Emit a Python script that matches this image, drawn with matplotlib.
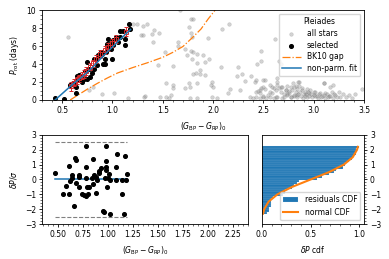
import numpy as np
import matplotlib
matplotlib.use("Agg")
import matplotlib.pyplot as plt
from matplotlib.ticker import AutoMinorLocator

plt.rcParams['font.size'] = 5.5
plt.rcParams['axes.linewidth'] = 0.6
for ax_ in ('xtick', 'ytick'):
    plt.rcParams[ax_ + '.major.size'] = 2.2
    plt.rcParams[ax_ + '.minor.size'] = 1.2
    plt.rcParams[ax_ + '.major.width'] = 0.6
    plt.rcParams[ax_ + '.minor.width'] = 0.4
    plt.rcParams[ax_ + '.major.pad'] = 2

# all Pleiades stars (grey)
all_x = [0.56, 0.77, 0.81, 0.90, 1.02, 1.15,
         1.20, 1.24, 1.30, 1.34, 1.28, 1.30, 1.39, 1.41, 1.46, 1.40, 1.52, 1.45,
         1.32, 1.31, 1.47, 1.53, 1.56, 1.60, 1.60, 1.53, 1.58, 1.60,
         1.65, 1.65, 1.67, 1.78, 1.80, 1.76, 1.78, 1.79, 1.95, 1.78, 1.80, 1.84,
         1.79, 1.96, 1.84, 1.90, 1.92, 1.87, 1.80, 1.83, 1.87, 1.92, 1.84, 1.77,
         1.98, 2.00, 1.77, 1.84, 1.72, 1.76, 1.72, 1.74,
         2.16, 2.09, 2.61, 2.48, 2.48, 2.44, 2.65, 2.67, 2.08, 2.25, 2.24, 2.29,
         2.38, 2.42, 1.99, 2.32, 2.50, 2.63, 2.63, 2.27, 2.17, 2.15, 1.99, 2.04,
         2.43, 2.47, 2.50, 2.52, 2.57, 2.58, 2.62, 2.63, 2.65, 2.67, 2.68, 2.72,
         2.73, 2.77, 2.79, 2.82, 2.83,
         2.37, 2.40, 2.43, 2.47, 2.50, 2.53, 2.57, 2.60, 2.63, 2.70, 2.73, 2.77,
         2.80, 2.83,
         2.43, 2.52, 2.57, 2.48, 2.45, 2.60, 2.67, 2.72, 2.75, 2.78, 2.80, 2.85,
         2.85, 2.88, 2.91, 2.95, 2.96, 3.00, 3.01, 3.05, 3.08, 3.10, 3.11, 3.15,
         3.16, 3.18, 3.21, 3.25, 3.26, 3.29, 3.32, 3.35, 3.38, 3.41, 3.48,
         2.73, 2.77, 2.80, 2.82, 2.83, 2.84, 2.86, 2.87, 2.89, 2.90, 2.91, 2.92,
         2.93, 2.94, 2.95, 2.97, 2.98, 3.00, 3.01, 3.03, 3.04, 3.06, 3.07, 3.10,
         3.11, 3.13, 3.14, 3.16, 3.19, 3.20, 3.23, 2.88, 2.93, 2.75, 2.70, 2.68,
         2.62, 2.58, 2.55, 2.50, 2.47, 3.10, 3.19, 2.84]
all_y = [7.0, 1.1, 1.4, 0.63, 0.82, 0.26,
         8.4, 8.4, 8.2, 8.5, 7.2, 7.2, 7.3, 7.8, 7.4, 6.4, 5.3, 3.9,
         0.4, 0.3, 0.3, 0.3, 0.2, 1.7, 1.3, 1.9, 0.6, 3.8,
         6.4, 6.0, 10.0, 9.0, 9.0, 8.1, 7.5, 7.0, 6.85, 5.4, 5.3, 5.1,
         4.6, 4.6, 4.1, 5.0, 4.2, 3.3, 2.9, 3.0, 2.9, 2.8, 1.85, 1.4,
         1.7, 1.4, 0.2, 0.2, 1.3, 1.9, 5.7, 5.0,
         8.5, 7.85, 6.8, 5.5, 4.3, 3.96, 4.37, 4.0, 3.7, 3.7, 2.67, 2.9,
         2.67, 2.0, 2.0, 2.1, 2.2, 2.5, 2.0, 1.1, 1.2, 0.74, 0.3, 0.26,
         0.93, 1.11, 1.41, 1.19, 0.93, 1.41, 1.11, 1.67, 1.3, 0.93, 1.41, 1.11,
         1.56, 1.48, 1.85, 1.56, 1.19,
         0.37, 0.26, 0.37, 0.19, 0.30, 0.19, 0.37, 0.26, 0.37, 0.30, 0.56, 0.37,
         0.44, 0.56,
         2.22, 2.22, 1.67, 1.30, 1.00, 1.30, 1.48, 1.11, 0.74, 1.11, 1.48, 2.04,
         1.60, 1.30, 0.93, 0.74, 1.11, 0.56, 0.93, 0.63, 0.48, 1.85, 0.74, 0.48,
         1.48, 0.93, 0.56, 0.85, 0.37, 0.63, 0.37, 0.56, 0.26, 0.63, 1.22,
         0.63, 0.37, 0.56, 0.85, 0.37, 0.63, 0.85, 0.48, 0.26, 0.70, 0.48, 0.63,
         0.37, 0.85, 0.48, 0.63, 0.30, 0.85, 0.41, 0.48, 0.26, 0.74, 0.30, 0.56,
         0.26, 0.63, 0.33, 0.44, 0.26, 0.67, 0.33, 1.11, 1.19, 1.00, 0.63, 0.26,
         0.37, 0.74, 0.56, 0.48, 0.74, 1.93, 1.67, 2.04]

# selected stars (black)
sel_x = [0.43, 0.52, 0.58, 0.605, 0.64, 0.64, 0.645, 0.67, 0.69, 0.70, 0.72,
         0.75, 0.73, 0.75, 0.77, 0.82, 0.82, 0.84, 0.86, 0.88, 0.89, 0.91, 0.93,
         0.93, 0.94, 0.95, 0.96, 0.96, 0.98, 0.99, 1.00, 1.01, 1.01, 1.04, 1.07,
         1.07, 1.10, 1.12, 1.12, 1.16, 1.17, 0.78, 0.80, 0.85, 0.66, 0.62, 0.90,
         1.05]
sel_y = [0.26, 0.15, 1.67, 1.85, 1.4, 0.75, 2.7, 2.8, 2.2, 2.0, 2.35,
         2.3, 3.25, 4.25, 3.4, 3.5, 4.55, 4.6, 5.0, 4.9, 5.3, 4.0, 4.0,
         4.6, 5.3, 6.2, 5.75, 6.75, 6.2, 5.7, 4.6, 6.7, 6.1, 7.0, 7.05,
         7.7, 7.7, 6.1, 6.75, 8.45, 7.85, 2.6, 3.0, 3.9, 2.3, 1.9, 5.1,
         6.5]

# binned medians (red squares)
bin_x = [0.585, 0.62, 0.65, 0.67, 0.70, 0.72, 0.74, 0.78, 0.81, 0.84, 0.88,
         0.93, 0.96, 1.00, 1.04, 1.13]
bin_y = [1.5, 1.9, 2.2, 2.4, 2.7, 2.9, 3.2, 3.7, 4.1, 4.55, 5.1,
         5.55, 5.9, 6.3, 6.8, 7.6]
bin_err = [0.45, 0.4, 0.4, 0.4, 0.4, 0.4, 0.45, 0.4, 0.4, 0.45, 0.45,
           0.45, 0.4, 0.45, 0.45, 0.5]

# BK10 gap
gap_x = [0.58, 0.65, 0.75, 0.85, 0.95, 1.05, 1.20, 1.35, 1.50, 1.60, 1.70,
         1.80, 1.88, 1.95, 2.02]
gap_y = [0.0, 0.5, 1.2, 1.85, 2.45, 3.0, 3.6, 4.15, 4.75, 5.3, 5.95,
         7.0, 7.9, 9.0, 10.0]

# non-parametric fit
fit_x = [0.43, 0.50, 0.60, 0.70, 0.80, 0.90, 1.00, 1.10, 1.18]
fit_y = [0.0, 0.7, 1.7, 2.6, 3.6, 4.8, 5.9, 7.0, 7.85]

# residuals dP/sigma
res_x = [0.467, 0.55, 0.584, 0.607, 0.61, 0.624, 0.644, 0.644, 0.664, 0.667,
         0.677, 0.677, 0.707, 0.707, 0.71, 0.744, 0.76, 0.777, 0.777, 0.784,
         0.784, 0.794, 0.80, 0.81, 0.844, 0.85, 0.85, 0.86, 0.877, 0.877,
         0.894, 0.91, 0.91, 0.934, 0.95, 0.96, 0.967, 0.977, 0.977, 0.977,
         0.984, 0.99, 1.0, 1.01, 1.017, 1.017, 1.077, 1.083, 1.09, 1.14,
         1.14, 1.16, 1.174, 1.177, 1.19]
res_y = [0.47, -0.96, -0.42, 0.92, -0.98, -0.09, 0.27, 0.09, -1.81, 1.48,
         1.32, -0.24, 0.32, 0.14, -0.53, -0.98, -1.03, -1.1, 2.26, 0.87,
         0.09, -0.49, -0.96, -0.49, 0.09, 1.39, -0.31, 0.32, -0.91, 0.2,
         -0.02, 0.43, 0.58, 0.76, -2.15, -2.21, 0.09, 0.65, 0.87, 1.25,
         2.26, -0.49, 0.09, 0.36, -2.32, -0.02, 0.87, -0.02, 1.72, -0.96,
         -0.02, -2.32, 1.59, -0.02, 0.38]

# normal CDF curve as read
ncdf_y = [-2.3, -2.0, -1.5, -1.0, -0.5, 0.0, 0.5, 1.0, 1.5, 2.0, 2.2]
ncdf_x = [0.011, 0.023, 0.067, 0.159, 0.309, 0.5, 0.691, 0.841, 0.933, 0.977, 0.986]

fig = plt.figure(figsize=(3.89, 2.59), dpi=100)
ax1 = fig.add_axes([0.108, 0.614, 0.828, 0.347])
ax2 = fig.add_axes([0.108, 0.135, 0.5295, 0.344])
ax3 = fig.add_axes([0.6735, 0.135, 0.2625, 0.344])

ax1.scatter(all_x, all_y, s=7, color='gray', alpha=0.35, edgecolors='dimgray',
            linewidths=0.3, label='all stars')
ax1.scatter(sel_x, sel_y, s=7, color='k', label='selected', zorder=3)
ax1.errorbar(bin_x, bin_y, yerr=bin_err, fmt='s', mfc='none', mec='tab:red',
             ecolor='tab:red', ms=3, mew=0.7, capsize=1.6, elinewidth=0.7, zorder=4)
ax1.plot(gap_x, gap_y, '-.', color='tab:orange', lw=0.9, label='BK10 gap')
ax1.plot(fit_x, fit_y, '-', color='tab:blue', lw=1.1, label='non-parm. fit', zorder=5)
ax1.set_xlim(0.3, 3.5)
ax1.set_ylim(0, 10)
ax1.set_xlabel(r'$(G_{\rm BP} - G_{\rm RP})_0$')
ax1.set_ylabel(r'$P_{\rm rot}$ (days)')
ax1.xaxis.set_minor_locator(AutoMinorLocator())
ax1.yaxis.set_minor_locator(AutoMinorLocator())
ax1.legend(title='Pleiades', loc='upper right', fontsize=5.5, title_fontsize=5.5,
           handlelength=2.4, borderpad=0.45, labelspacing=0.35)

ax2.scatter(res_x, res_y, s=7, color='k', zorder=3)
ax2.plot([min(res_x), max(res_x)], [0, 0], color='tab:blue', lw=1.1)
ax2.plot([min(res_x), max(res_x)], [2.5, 2.5], '--', color='gray', lw=0.8)
ax2.plot([min(res_x), max(res_x)], [-2.5, -2.5], '--', color='gray', lw=0.8)
ax2.set_xlim(0.34, 2.4)
ax2.set_ylim(-3, 3)
ax2.set_xticks([0.5, 0.75, 1.0, 1.25, 1.5, 1.75, 2.0, 2.25])
ax2.set_yticks([-3, -2, -1, 0, 1, 2, 3])
ax2.set_xlabel(r'$(G_{\rm BP} - G_{\rm RP})_0$')
ax2.set_ylabel(r'$\delta P/\sigma$')
ax2.xaxis.set_minor_locator(AutoMinorLocator())
ax2.yaxis.set_minor_locator(AutoMinorLocator())

ax3.hist(res_y, bins=30, cumulative=True, density=True, orientation='horizontal',
         color='tab:blue', edgecolor='#dbe8f3', linewidth=0.1, label='residuals CDF')
ax3.plot(ncdf_x, ncdf_y, color='tab:orange', lw=1.5, label='normal CDF')
ax3.set_xlim(0, 1.05)
ax3.set_ylim(-3, 3)
ax3.set_xticks([0.0, 0.5, 1.0])
ax3.set_yticks([-3, -2, -1, 0, 1, 2, 3])
ax3.yaxis.tick_right()
ax3.set_xlabel(r'$\delta P$ cdf')
ax3.xaxis.set_minor_locator(AutoMinorLocator())
ax3.yaxis.set_minor_locator(AutoMinorLocator())
ax3.legend(loc='lower right', fontsize=5.5)

fig.savefig('out.png', dpi=100)
